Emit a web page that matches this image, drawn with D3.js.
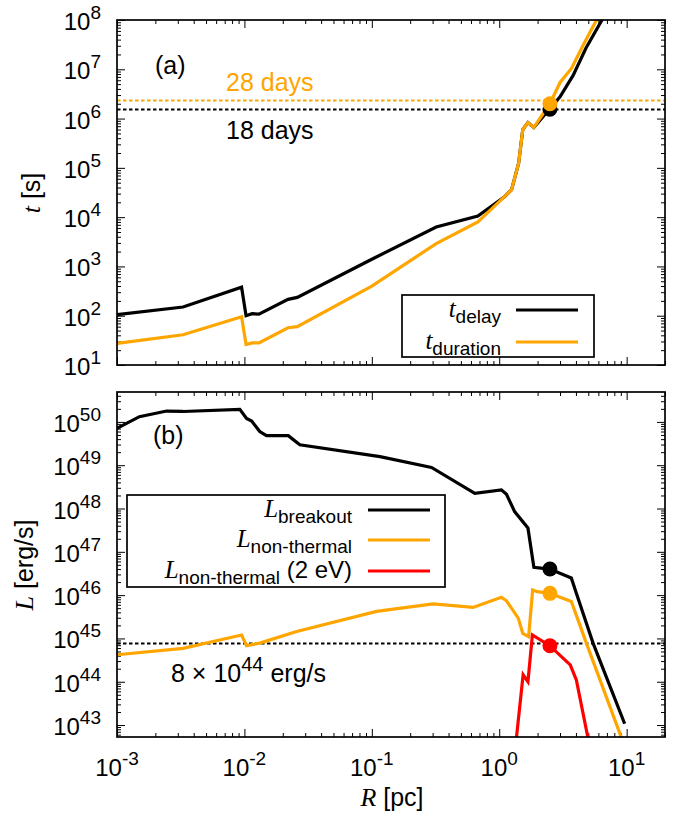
<!DOCTYPE html>
<html><head><meta charset="utf-8">
<script src="https://cdn.jsdelivr.net/npm/d3@7"></script>
<style>body{margin:0;background:#fff}</style>
</head><body>
<svg id="chart" width="685" height="816" xmlns="http://www.w3.org/2000/svg"></svg>
<script>
// ---------------- data ----------------
const xTickExps = [-3, -2, -1, 0, 1];
const tTickExps = [1, 2, 3, 4, 5, 6, 7, 8];
const LTickExps = [43, 44, 45, 46, 47, 48, 49, 50];

// panel (a)
const R_delay = [0.001, 0.0033, 0.0095, 0.0103, 0.0115, 0.013, 0.022, 0.026, 0.1, 0.32, 0.68, 1.1, 1.25, 1.42, 1.53, 1.68, 1.87, 2.5, 3.0, 3.8, 4.8, 6.4, 7.5];
const t_delay = [105, 150, 380, 100, 110, 108, 215, 235, 1400, 6300, 1.05e4, 2.6e4, 3.6e4, 1.25e5, 6e5, 8.3e5, 6.6e5, 1.6e6, 2.75e6, 7.5e6, 2.7e7, 1e8, 2.2e8];
const R_duration = [0.001, 0.0033, 0.0095, 0.0103, 0.0115, 0.013, 0.022, 0.026, 0.1, 0.32, 0.68, 1.1, 1.25, 1.42, 1.53, 1.68, 1.87, 2.5, 3.0, 3.7, 4.5, 5.8, 7.0];
const t_duration = [27.5, 41, 95, 26, 28, 28, 57, 60, 400, 2900, 8000, 2.6e4, 3.6e4, 1.25e5, 6e5, 8.3e5, 6.6e5, 2.0e6, 5.4e6, 1.05e7, 2.9e7, 1e8, 2.5e8];
const markR = 2.5;
const mark_t_delay = 1.55e6;
const mark_t_duration = 2.0e6;
const days28 = 28, days18 = 18;

// panel (b)
const R_breakout = [0.001, 0.0015, 0.00245, 0.0033, 0.0092, 0.0104, 0.0114, 0.0132, 0.0149, 0.0221, 0.0272, 0.116, 0.294, 0.643, 1.04, 1.14, 1.32, 1.68, 1.87, 2.49, 3.68, 4.03, 5.45, 9.65];
const L_breakout = [7.1e49, 1.32e50, 1.78e50, 1.74e50, 1.95e50, 1.2e50, 1.05e50, 6.0e49, 4.8e49, 4.8e49, 2.95e49, 1.58e49, 8.9e48, 2.24e48, 2.7e48, 2.14e48, 8.5e47, 3.55e47, 4.4e46, 4.0e46, 2.5e46, 1.1e46, 7.8e44, 1.07e43];
const R_nonthermal = [0.001, 0.0033, 0.0095, 0.0104, 0.0132, 0.0257, 0.109, 0.303, 0.624, 1.04, 1.14, 1.41, 1.53, 1.70, 1.83, 1.99, 2.49, 3.68, 4.83, 9.65];
const L_nonthermal = [4.2e44, 5.9e44, 1.2e45, 6.8e44, 7.8e44, 1.45e45, 4.2e45, 6.3e45, 5.2e45, 8.9e45, 7.4e45, 2.95e45, 1.3e45, 1.1e45, 1.32e46, 1.2e46, 1.1e46, 7.1e45, 7.8e44, 3.2e42];
const R_nonthermal2eV = [1.33, 1.54, 1.68, 1.82, 2.49, 3.61, 4.03, 5.05];
const L_nonthermal2eV = [2.5e42, 1.45e44, 1.0e44, 1.2e45, 6.8e44, 2.45e44, 1.1e44, 4e42];
const markL_breakout = 4.0e46, markL_nonthermal = 1.1e46, markL_nonthermal2eV = 6.8e44;
const L_threshold = 8e44;

// ---------------- drawing ----------------
const SANS = "'Liberation Sans', Arial, Helvetica, sans-serif";
const SERIF = "'Liberation Serif', 'Times New Roman', serif";
const ORANGE = "#ffa500", RED = "#ff0000";
const svg = d3.select("#chart");
const left = 117, right = 665;
const x = d3.scaleLog().domain([1e-3, 20]).range([left, right]);

function minors(lo, hi) {
  const out = [];
  for (let e = Math.floor(Math.log10(lo)); e <= Math.ceil(Math.log10(hi)); e++)
    for (let k = 2; k <= 9; k++) { const v = k * Math.pow(10, e); if (v >= lo && v <= hi) out.push(v); }
  return out;
}
function pow10(e) { return Math.pow(10, e); }

function powLabel(g, px, py, exp, anchor) {
  const t = g.append("text").attr("x", px).attr("y", py)
    .attr("text-anchor", anchor).attr("font-family", SANS).attr("font-size", 24).attr("fill", "#000");
  t.append("tspan").text("10");
  t.append("tspan").attr("dy", -11).attr("font-size", 19).text(String(exp));
}

function panel(y, top, bottom, yExps, id, showX) {
  const g = svg.append("g");
  const xMaj = xTickExps.map(pow10), yMaj = yExps.map(pow10);
  const xMin = minors(...x.domain()), yMin = minors(...y.domain());
  const addAxis = (axisFn, scale, vals, size, tr) => {
    const a = g.append("g").attr("transform", tr)
      .call(axisFn(scale).tickValues(vals).tickSize(size).tickFormat(""));
    a.select(".domain").remove();
    a.selectAll("line").attr("stroke", "#000").attr("stroke-width", 1);
  };
  [[xMaj, -8], [xMin, -4]].forEach(([v, s]) => {
    addAxis(d3.axisBottom, x, v, s, `translate(0,${bottom})`);
    addAxis(d3.axisTop, x, v, s, `translate(0,${top})`);
  });
  [[yMaj, -8], [yMin, -4]].forEach(([v, s]) => {
    addAxis(d3.axisLeft, y, v, s, `translate(${left},0)`);
    addAxis(d3.axisRight, y, v, s, `translate(${right},0)`);
  });
  svg.append("defs").append("clipPath").attr("id", id)
    .append("rect").attr("x", left).attr("y", top).attr("width", right - left).attr("height", bottom - top);
  yExps.forEach(e => powLabel(g, 101, y(pow10(e)) + 10, e, "end"));
  if (showX) xTickExps.forEach(e => powLabel(g, x(pow10(e)), bottom + 39, e, "middle"));
  const plot = g.append("g").attr("clip-path", `url(#${id})`);
  return { g, plot, frame: () => g.append("rect").attr("x", left).attr("y", top).attr("width", right - left).attr("height", bottom - top).attr("fill", "none").attr("stroke", "#000").attr("stroke-width", 1.7) };
}

function curve(plot, y, xs, ys, color) {
  const line = d3.line().x(d => x(d[0])).y(d => y(d[1]));
  plot.append("path").datum(xs.map((v, i) => [v, ys[i]])).attr("d", line)
    .attr("fill", "none").attr("stroke", color).attr("stroke-width", 3.2).attr("stroke-linejoin", "miter");
}
function hdash(plot, y, val, color) {
  const yy = Math.round(y(val)) + 0.5;
  plot.append("line").attr("x1", left).attr("x2", right).attr("y1", yy).attr("y2", yy)
    .attr("stroke", color).attr("stroke-width", 2).attr("stroke-dasharray", "3.5,2.5");
}
function dot(plot, y, xv, yv, color) {
  plot.append("circle").attr("cx", x(xv)).attr("cy", y(yv)).attr("r", 7.5).attr("fill", color);
}

function legendEntry(g, xr, ly, main, sub, extra, color, x1, x2) {
  const t = g.append("text").attr("x", xr).attr("y", ly + 7).attr("text-anchor", "end").attr("fill", "#000");
  t.append("tspan").attr("font-family", SERIF).attr("font-style", "italic").attr("font-size", 25).text(main);
  t.append("tspan").attr("font-family", SANS).attr("font-size", 19).attr("dy", 6).text(sub);
  if (extra) t.append("tspan").attr("font-family", SANS).attr("font-size", 24).attr("dy", -6).text(extra);
  g.append("line").attr("x1", x1).attr("x2", x2).attr("y1", ly).attr("y2", ly).attr("stroke", color).attr("stroke-width", 3.2);
}

// ---- panel (a)
const yT = d3.scaleLog().domain([10, 1e8]).range([365, 20]);
const A = panel(yT, 20, 365, tTickExps, "clipA", false);
hdash(A.plot, yT, days28 * 86400, ORANGE);
hdash(A.plot, yT, days18 * 86400, "#000");
curve(A.plot, yT, R_delay, t_delay, "#000");
curve(A.plot, yT, R_duration, t_duration, ORANGE);
dot(A.plot, yT, markR, mark_t_delay, "#000");
dot(A.plot, yT, markR, mark_t_duration, ORANGE);
A.frame();
A.g.append("text").attr("x", 155).attr("y", 74).attr("font-family", SANS).attr("font-size", 25).text("(a)");
A.g.append("text").attr("x", 226).attr("y", 91).attr("font-family", SANS).attr("font-size", 25).attr("fill", ORANGE).text(days28 + " days");
A.g.append("text").attr("x", 226).attr("y", 139).attr("font-family", SANS).attr("font-size", 25).attr("fill", "#000").text(days18 + " days");
A.g.append("rect").attr("x", 402).attr("y", 295).attr("width", 192).attr("height", 62).attr("fill", "#fff").attr("stroke", "#000").attr("stroke-width", 1.7);
legendEntry(A.g, 501, 310, "t", "delay", null, "#000", 516, 578);
legendEntry(A.g, 501, 342, "t", "duration", null, ORANGE, 516, 578);
{
  const t = svg.append("text").attr("transform", "translate(40,193) rotate(-90)").attr("text-anchor", "middle");
  t.append("tspan").attr("font-family", SERIF).attr("font-style", "italic").attr("font-size", 26).text("t");
  t.append("tspan").attr("font-family", SANS).attr("font-size", 25).text(" [s]");
}

// ---- panel (b)
const yL = d3.scaleLog().domain([5.3e42, 4.9e50]).range([737, 392]);
const B = panel(yL, 392, 737, LTickExps, "clipB", true);
hdash(B.plot, yL, L_threshold, "#000");
curve(B.plot, yL, R_breakout, L_breakout, "#000");
curve(B.plot, yL, R_nonthermal, L_nonthermal, ORANGE);
curve(B.plot, yL, R_nonthermal2eV, L_nonthermal2eV, RED);
dot(B.plot, yL, markR, markL_breakout, "#000");
dot(B.plot, yL, markR, markL_nonthermal, ORANGE);
dot(B.plot, yL, markR, markL_nonthermal2eV, RED);
B.frame();
B.g.append("text").attr("x", 153).attr("y", 444).attr("font-family", SANS).attr("font-size", 25).text("(b)");
{
  const t = B.g.append("text").attr("x", 171).attr("y", 682).attr("font-family", SANS).attr("font-size", 25);
  t.append("tspan").text("8 \u00d7 10");
  t.append("tspan").attr("dy", -11).attr("font-size", 20).text("44");
  t.append("tspan").attr("dy", 11).text(" erg/s");
}
B.g.append("rect").attr("x", 127).attr("y", 495).attr("width", 318).attr("height", 92).attr("fill", "#fff").attr("stroke", "#000").attr("stroke-width", 1.7);
legendEntry(B.g, 352, 510, "L", "breakout", null, "#000", 368, 430);
legendEntry(B.g, 352, 540, "L", "non-thermal", null, ORANGE, 368, 430);
legendEntry(B.g, 352, 571, "L", "non-thermal", " (2 eV)", RED, 368, 430);
{
  const t = svg.append("text").attr("transform", "translate(33,565) rotate(-90)").attr("text-anchor", "middle");
  t.append("tspan").attr("font-family", SERIF).attr("font-style", "italic").attr("font-size", 26).text("L");
  t.append("tspan").attr("font-family", SANS).attr("font-size", 25).text(" [erg/s]");
}
{
  const t = svg.append("text").attr("x", 392).attr("y", 806).attr("text-anchor", "middle");
  t.append("tspan").attr("font-family", SERIF).attr("font-style", "italic").attr("font-size", 26).text("R");
  t.append("tspan").attr("font-family", SANS).attr("font-size", 25).text(" [pc]");
}
</script>
</body></html>
